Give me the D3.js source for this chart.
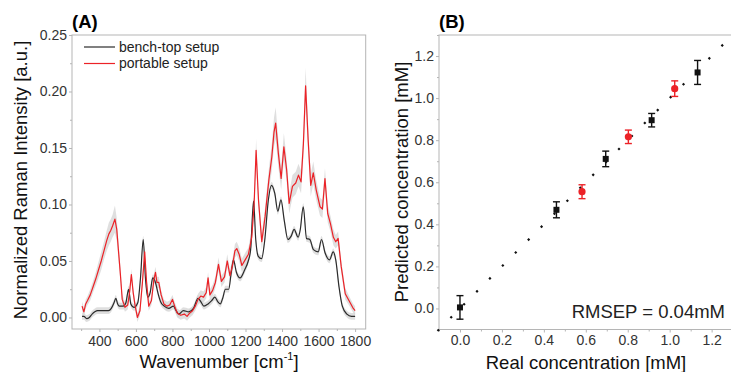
<!DOCTYPE html>
<html>
<head>
<meta charset="utf-8">
<script src="https://cdn.jsdelivr.net/npm/d3@7"></script>
<style>
    body{margin:0;background:#fff;}
    svg{display:block;font-family:"Liberation Sans",Arial,sans-serif;}
    .tick text{fill:#333;font-size:14px;}
    .domain{display:none;}
</style>
</head>
<body>
<svg id="chart" width="731" height="372"></svg>
<script>
// (A) spectra: [wavenumber, mean, sd]
const benchSpectrum=[[305,0.001],[315,0.001],[330,-0.001],[345,0.000],[360,0.003],[375,0.005],[390,0.006],[410,0.006],[430,0.006],[450,0.006],
    [465,0.008],[480,0.013],[490,0.017],[500,0.012],[510,0.010],[530,0.010],[545,0.013],[560,0.025],[572,0.012],[590,0.009],
    [610,0.013],[625,0.035],[640,0.069],[652,0.035],[665,0.018],[678,0.022],[692,0.035],[707,0.031],[720,0.022],[735,0.014],
    [755,0.010],[780,0.008],[805,0.010],[820,0.006],[835,0.003],[860,0.006],[890,0.005],[915,0.008],[940,0.017],[955,0.014],
    [972,0.010],[995,0.012],[1015,0.015],[1032,0.018],[1048,0.014],[1062,0.012],[1075,0.017],[1090,0.025],[1108,0.025],[1122,0.040],
    [1134,0.051],[1150,0.040],[1170,0.035],[1195,0.042],[1215,0.050],[1228,0.060],[1244,0.103],[1256,0.069],[1270,0.054],[1288,0.052],
    [1305,0.068],[1325,0.104],[1342,0.117],[1360,0.110],[1377,0.094],[1394,0.104],[1412,0.086],[1432,0.069],[1450,0.072],[1466,0.078],
    [1488,0.071],[1500,0.078],[1516,0.098],[1534,0.070],[1552,0.069],[1572,0.060],[1598,0.058],[1616,0.069],[1636,0.057],[1660,0.051],
    [1680,0.058],[1694,0.051],[1712,0.027],[1730,0.010],[1755,0.003],[1780,0.001],[1800,0.001]];
const benchSd=0.003;

const portableSpectrum=[[305,0.010,0.004],[315,0.005,0.004],[325,0.012,0.004],[335,0.015,0.004],[350,0.020,0.005],[365,0.027,0.005],
    [380,0.034,0.006],[395,0.042,0.007],[410,0.050,0.008],[425,0.059,0.008],[440,0.068,0.009],[452,0.074,0.010],[462,0.077,0.010],
    [472,0.081,0.010],[485,0.087,0.012],[495,0.078,0.010],[505,0.058,0.008],[515,0.038,0.006],[525,0.016,0.005],[540,0.009,0.004],
    [555,0.011,0.004],[565,0.022,0.004],[575,0.038,0.005],[585,0.022,0.004],[595,0.011,0.004],[608,0.000,0.004],[622,0.006,0.004],
    [635,0.030,0.005],[648,0.058,0.006],[658,0.032,0.005],[670,0.010,0.004],[685,0.015,0.004],[698,0.033,0.005],[707,0.040,0.005],
    [715,0.031,0.005],[725,0.031,0.005],[738,0.020,0.004],[753,0.012,0.004],[770,0.010,0.004],[785,0.011,0.004],[800,0.016,0.004],
    [812,0.010,0.004],[826,0.004,0.004],[845,0.002,0.004],[865,0.003,0.004],[880,0.001,0.004],[895,0.004,0.004],[910,0.006,0.004],
    [925,0.010,0.004],[940,0.016,0.005],[955,0.019,0.005],[970,0.018,0.005],[985,0.022,0.005],[995,0.035,0.005],[1005,0.020,0.005],
    [1020,0.024,0.005],[1035,0.031,0.005],[1052,0.047,0.006],[1068,0.032,0.005],[1085,0.036,0.005],[1100,0.050,0.006],[1115,0.037,0.005],
    [1130,0.047,0.006],[1142,0.059,0.006],[1152,0.061,0.006],[1165,0.056,0.006],[1180,0.046,0.006],[1198,0.051,0.006],[1216,0.056,0.006],
    [1234,0.071,0.007],[1247,0.100,0.008],[1258,0.148,0.010],[1271,0.104,0.008],[1289,0.067,0.007],[1307,0.089,0.008],[1328,0.122,0.010],
    [1344,0.142,0.012],[1356,0.164,0.013],[1365,0.172,0.014],[1380,0.145,0.012],[1395,0.123,0.010],[1410,0.151,0.012],[1425,0.131,0.010],
    [1439,0.101,0.009],[1457,0.116,0.010],[1475,0.119,0.010],[1490,0.126,0.010],[1504,0.120,0.010],[1517,0.154,0.012],[1529,0.205,0.016],
    [1543,0.157,0.012],[1557,0.117,0.010],[1571,0.128,0.010],[1587,0.113,0.009],[1608,0.098,0.008],[1621,0.096,0.008],[1635,0.123,0.009],
    [1650,0.092,0.008],[1665,0.083,0.007],[1681,0.071,0.007],[1694,0.067,0.006],[1707,0.070,0.006],[1724,0.045,0.005],[1746,0.021,0.005],
    [1773,0.013,0.004],[1790,0.008,0.004],[1800,0.006,0.004]];

const legendLabels=["bench-top setup","portable setup"];
const aXTicks=[400,600,800,1000,1200,1400,1600,1800];
const aXMinor=[300,500,700,900,1100,1300,1500,1700];
const aYTicks=[0,0.05,0.10,0.15,0.20,0.25];
const aYMinor=[0.025,0.075,0.125,0.175,0.225];

// (B) predictions
const benchReal=[0.0,0.46,0.695,0.914,1.133];
const benchPred=[0.005,0.469,0.711,0.895,1.122];
const benchErr=[0.056,0.038,0.037,0.032,0.057];
const portReal=[0.582,0.803,1.024];
const portPred=[0.555,0.816,1.045];
const portErr=[0.033,0.032,0.037];
const identityLine=[-0.107,1.32];
const bTicks=[0,0.2,0.4,0.6,0.8,1.0,1.2];
const bMinor=[-0.1,0.1,0.3,0.5,0.7,0.9,1.1,1.3];
const rmsepText="RMSEP = 0.04mM";

const RED="#ec2227",DARK="#2b2b2b",FRAME="#b5b5b5";
const svg=d3.select("#chart");

function styleAxis(g){
    g.selectAll(".tick line").attr("stroke",FRAME);
    return g;
}

/******** panel A ********/
let xA=d3.scaleLinear().domain([250,1858]).range([72,365.7]);
let yA=d3.scaleLinear().domain([-0.0102,0.25]).range([329,35]);

let gA=svg.append("g");
gA.append("rect").attr("x",72).attr("y",35).attr("width",365.7-72).attr("height",329-35)
    .attr("fill","none").attr("stroke",FRAME).attr("stroke-width",1);

styleAxis(gA.append("g").attr("transform","translate(0,329)")
    .call(d3.axisBottom(xA).tickValues(aXTicks).tickFormat(d3.format("d")).tickSize(3).tickPadding(4)));
styleAxis(gA.append("g").attr("transform","translate(0,329)")
    .call(d3.axisBottom(xA).tickValues(aXMinor).tickFormat("").tickSize(2)));
styleAxis(gA.append("g").attr("transform","translate(72,0)")
    .call(d3.axisLeft(yA).tickValues(aYTicks).tickFormat(d3.format(".2f")).tickSize(3).tickPadding(2)));
styleAxis(gA.append("g").attr("transform","translate(72,0)")
    .call(d3.axisLeft(yA).tickValues(aYMinor).tickFormat("").tickSize(2)));

let bandArea=d3.area().x(d=>xA(d[0])).y0(d=>yA(d[1]-(d[2]===undefined?benchSd:d[2]))).y1(d=>yA(d[1]+(d[2]===undefined?benchSd:d[2])));
gA.append("path").attr("d",bandArea.curve(d3.curveLinear)(portableSpectrum)).attr("fill","#d4d4d4").attr("opacity",0.75);
gA.append("path").attr("d",bandArea.curve(d3.curveMonotoneX)(benchSpectrum)).attr("fill","#d4d4d4").attr("opacity",0.75);

let lineA=d3.line().x(d=>xA(d[0])).y(d=>yA(d[1]));
gA.append("path").attr("d",lineA.curve(d3.curveMonotoneX)(benchSpectrum))
    .attr("fill","none").attr("stroke",DARK).attr("stroke-width",1.2);
gA.append("path").attr("d",lineA.curve(d3.curveLinear)(portableSpectrum))
    .attr("fill","none").attr("stroke",RED).attr("stroke-width",1.2).attr("stroke-linejoin","round");

// legend
let legend=gA.selectAll(".legend").data(legendLabels).enter().append("g")
    .attr("transform",(d,i)=>"translate(84,"+(47+i*16.5)+")");
legend.append("line").attr("x1",0).attr("x2",31).attr("stroke",(d,i)=>i?RED:DARK).attr("stroke-width",1.2);
legend.append("text").attr("x",35).attr("dy","0.35em").attr("font-size",14).attr("fill","#222").text(d=>d);

gA.append("text").attr("x",72).attr("y",28).attr("font-size",18.5).attr("font-weight","bold").text("(A)");
gA.append("text").attr("transform","translate(27,180) rotate(-90)").attr("text-anchor","middle")
    .attr("font-size",18.5).attr("fill","#111").text("Normalized Raman Intensity [a.u.]");
let xt=gA.append("text").attr("x",219).attr("y",368).attr("text-anchor","middle").attr("font-size",18.5).attr("fill","#111");
xt.append("tspan").text("Wavenumber [cm");
xt.append("tspan").attr("font-size",11).attr("dy",-8).text("-1");
xt.append("tspan").attr("dy",8).text("]");

/******** panel B ********/
let xB=d3.scaleLinear().domain([-0.1,1.3]).range([439,732.6]);
let yB=d3.scaleLinear().domain([-0.1,1.3]).range([329.5,35]);

let gB=svg.append("g");
gB.append("rect").attr("x",439).attr("y",35).attr("width",732.6-439).attr("height",329.5-35)
    .attr("fill","none").attr("stroke",FRAME).attr("stroke-width",1);

styleAxis(gB.append("g").attr("transform","translate(0,329.5)")
    .call(d3.axisBottom(xB).tickValues(bTicks).tickFormat(d3.format(".1f")).tickSize(3).tickPadding(3)));
styleAxis(gB.append("g").attr("transform","translate(0,329.5)")
    .call(d3.axisBottom(xB).tickValues(bMinor).tickFormat("").tickSize(2)));
styleAxis(gB.append("g").attr("transform","translate(439,0)")
    .call(d3.axisLeft(yB).tickValues(bTicks).tickFormat(d3.format(".1f")).tickSize(3).tickPadding(2)));
styleAxis(gB.append("g").attr("transform","translate(439,0)")
    .call(d3.axisLeft(yB).tickValues(bMinor).tickFormat("").tickSize(2)));

// y = x reference, dotted (short square dashes)
gB.append("line")
    .attr("x1",xB(identityLine[0])).attr("y1",yB(identityLine[0]))
    .attr("x2",xB(identityLine[1])).attr("y2",yB(identityLine[1]))
    .attr("stroke","#111").attr("stroke-width",2.2).attr("stroke-linecap","butt")
    .attr("stroke-dasharray","2.2 16.08");

function errorBars(real,pred,err,color){
    let g=gB.append("g").attr("stroke",color).attr("stroke-width",1.4);
    real.forEach((r,i)=>{
        let cx=xB(r),top=yB(pred[i]+err[i]),bot=yB(pred[i]-err[i]);
        g.append("line").attr("x1",cx).attr("x2",cx).attr("y1",top).attr("y2",bot);
        g.append("line").attr("x1",cx-3.5).attr("x2",cx+3.5).attr("y1",top).attr("y2",top);
        g.append("line").attr("x1",cx-3.5).attr("x2",cx+3.5).attr("y1",bot).attr("y2",bot);
    });
}
errorBars(benchReal,benchPred,benchErr,"#111");
errorBars(portReal,portPred,portErr,RED);

gB.selectAll(".sq").data(benchReal).enter().append("rect").attr("class","sq")
    .attr("x",(d)=>xB(d)-3).attr("y",(d,i)=>yB(benchPred[i])-3)
    .attr("width",6).attr("height",6).attr("fill","#111");
gB.selectAll(".dot").data(portReal).enter().append("circle").attr("class","dot")
    .attr("cx",(d)=>xB(d)).attr("cy",(d,i)=>yB(portPred[i])).attr("r",3.6).attr("fill",RED);

gB.append("text").attr("x",725).attr("y",318).attr("text-anchor","end").attr("font-size",18.5).attr("fill","#222").text(rmsepText);

gB.append("text").attr("x",439).attr("y",28).attr("font-size",18.5).attr("font-weight","bold").text("(B)");
gB.append("text").attr("transform","translate(408,182) rotate(-90)").attr("text-anchor","middle")
    .attr("font-size",18.5).attr("fill","#111").text("Predicted concentration [mM]");
gB.append("text").attr("x",586).attr("y",369).attr("text-anchor","middle")
    .attr("font-size",18.5).attr("fill","#111").text("Real concentration [mM]");
</script>
</body>
</html>
